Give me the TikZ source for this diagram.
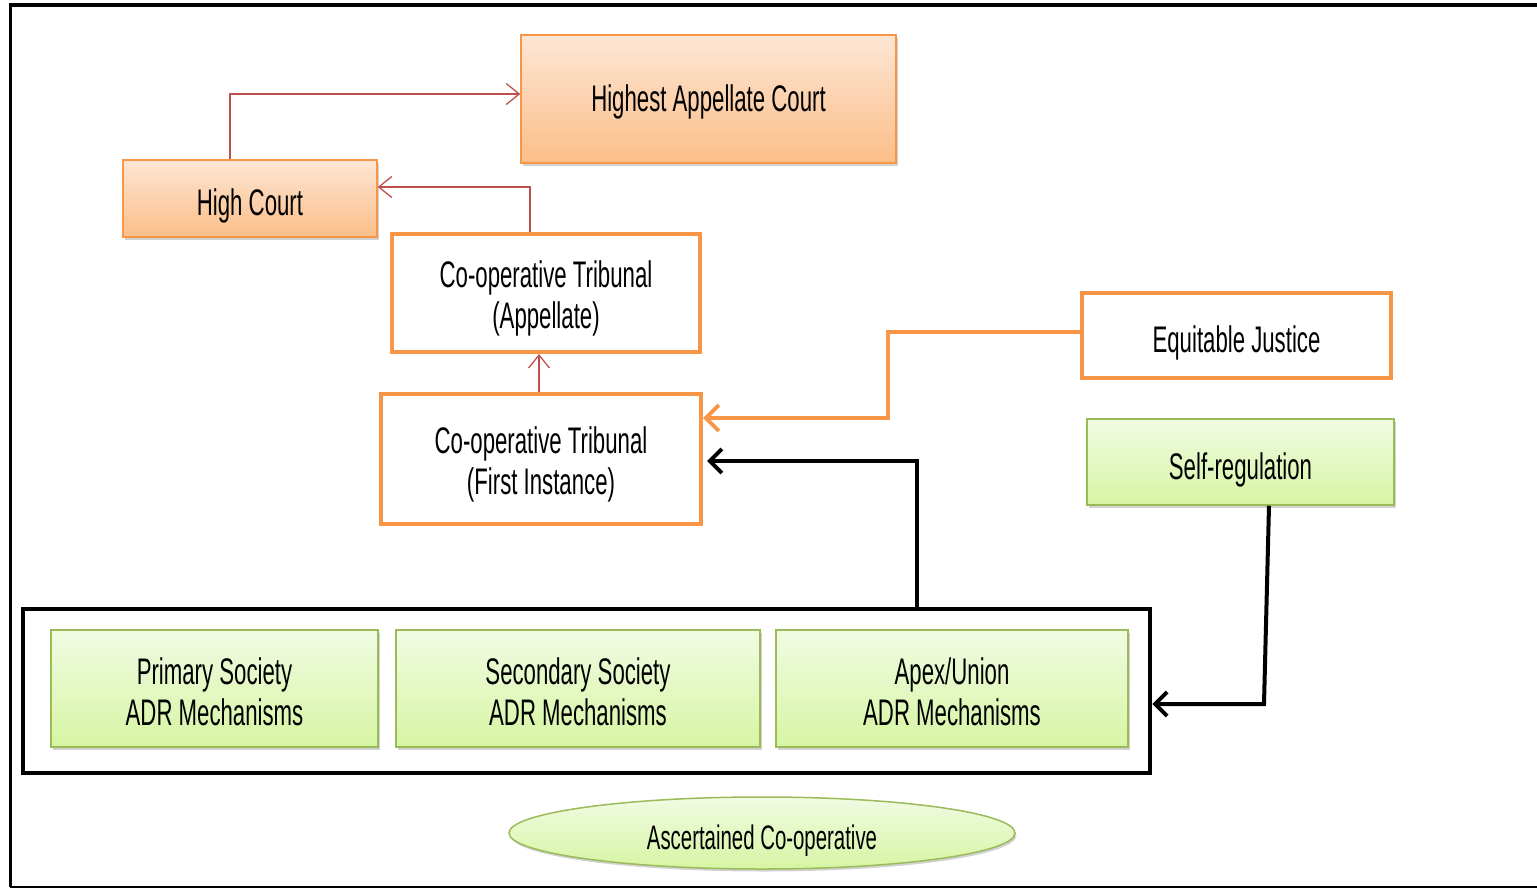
\documentclass[tikz,border=0pt]{standalone}
\usepackage{fontspec}
\setmainfont[FakeStretch=0.6]{Liberation Sans}
\usetikzlibrary{arrows.meta,shadows,shapes.geometric,calc}

\definecolor{accentorange}{HTML}{F79646}
\definecolor{peachtop}{HTML}{FDE6D5}
\definecolor{peachbot}{HTML}{FBBE88}
\definecolor{greentop}{HTML}{F1FBE3}
\definecolor{greenbot}{HTML}{D6F5A3}
\definecolor{greenedge}{HTML}{9BBB59}
\definecolor{linkred}{HTML}{C0504D}

% centred label lines, set slightly below the box centre
\newcommand{\boxtext}[2][5pt]{\raisebox{-#1}[\height][\depth]{\begin{tabular}{@{}c@{}}#2\end{tabular}}}

\tikzset{
  lbl/.style={font=\fontsize{37}{41}\selectfont, text=black},
  courtbox/.style={lbl, rectangle, draw=accentorange, line width=1.5,
    top color=peachtop, bottom color=peachbot,
    drop shadow={shadow xshift=1.5pt, shadow yshift=-2.5pt, opacity=0.35}},
  tribbox/.style={lbl, rectangle, draw=accentorange, line width=4, fill=white},
  greenbox/.style={lbl, rectangle, draw=greenedge, line width=1.5,
    top color=greentop, bottom color=greenbot,
    drop shadow={shadow xshift=1.5pt, shadow yshift=-2.5pt, opacity=0.35}},
  groupbox/.style={rectangle, draw=black, line width=4.5},
  redlink/.style={draw=linkred, line width=1.3,
    -{Straight Barb[length=13, width=21, line width=1.3]}},
  orangelink/.style={draw=accentorange, line width=4.5,
    -{Straight Barb[length=13, width=26, line width=4]}},
  blacklink/.style={draw=black, line width=4,
    -{Straight Barb[length=12, width=24, line width=4]}},
}

\begin{document}
\begin{tikzpicture}[x=1pt, y=-1pt]
  \useasboundingbox (0,0) rectangle (1537,889);
  \fill[white] (0,0) rectangle (1537,889);

  % outer frame
  \draw[line width=4] (9,5) -- (1537,5);
  \draw[line width=3] (10,5) -- (10,887);
  \draw[line width=2] (10,887) -- (1537,887);

  % courts
  \node[courtbox, minimum width=375, minimum height=128] (hac) at (708.5,99) {\boxtext[4pt]{Highest Appellate Court}};
  \node[courtbox, minimum width=254, minimum height=77] (hc) at (250,198.5) {\boxtext[9pt]{High Court}};

  % tribunals
  \node[tribbox, minimum width=308, minimum height=118] (cta) at (546,293) {\boxtext[7pt]{Co-operative Tribunal\\(Appellate)}};
  \node[tribbox, minimum width=320, minimum height=130] (ctf) at (541,459) {\boxtext[7pt]{Co-operative Tribunal\\(First Instance)}};

  % principles
  \node[tribbox, minimum width=309, minimum height=85] (ej) at (1236.5,335.5) {\boxtext[9pt]{Equitable Justice}};
  \node[greenbox, minimum width=307, minimum height=86] (sr) at (1240.5,462) {\boxtext[9pt]{Self-regulation}};

  % ADR mechanisms group
  \node[groupbox, minimum width=1127, minimum height=164] (grp) at (586.5,691) {};
  \node[greenbox, minimum width=327, minimum height=117] (ps) at (214.5,688.5) {\boxtext[8pt]{Primary Society\\ADR Mechanisms}};
  \node[greenbox, minimum width=364, minimum height=117] (ss) at (578,688.5) {\boxtext[8pt]{Secondary Society\\ADR Mechanisms}};
  \node[greenbox, minimum width=352, minimum height=117] (au) at (952,688.5) {\boxtext[8pt]{Apex/Union\\ADR Mechanisms}};

  % base
  \node[greenbox, ellipse, minimum width=506, minimum height=72, inner sep=0,
        font=\fontsize{34}{38}\selectfont] (ac) at (762,833) {\boxtext[9pt]{Ascertained Co-operative}};

  % appeal routes
  \draw[redlink] ($(hc.north)+(-20,0)$) |- ($(hac.west)+(0,-5)$);
  \draw[redlink] ($(cta.north)+(-16,0)$) |- ($(hc.east)+(0,-11.5)$);
  \draw[redlink] ($(ctf.north)+(-2,0)$) -- ($(cta.south)+(-7,0)$);

  % equitable justice feeds the tribunal
  \draw[orangelink] ($(ej.west)+(0,-3.5)$) -- (888,332) |- ($(ctf.east)+(0,-41)$);

  % ADR group escalates to the tribunal
  \draw[blacklink] ($(grp.north)+(330.5,0)$) |- ($(ctf.east)+(4,2)$);

  % self-regulation governs the ADR group
  \coordinate (bend) at (1264,704);
  \draw[blacklink] ($(sr.south)+(28.5,0)$) -- (bend) -- (grp.east |- bend);
\end{tikzpicture}
\end{document}
